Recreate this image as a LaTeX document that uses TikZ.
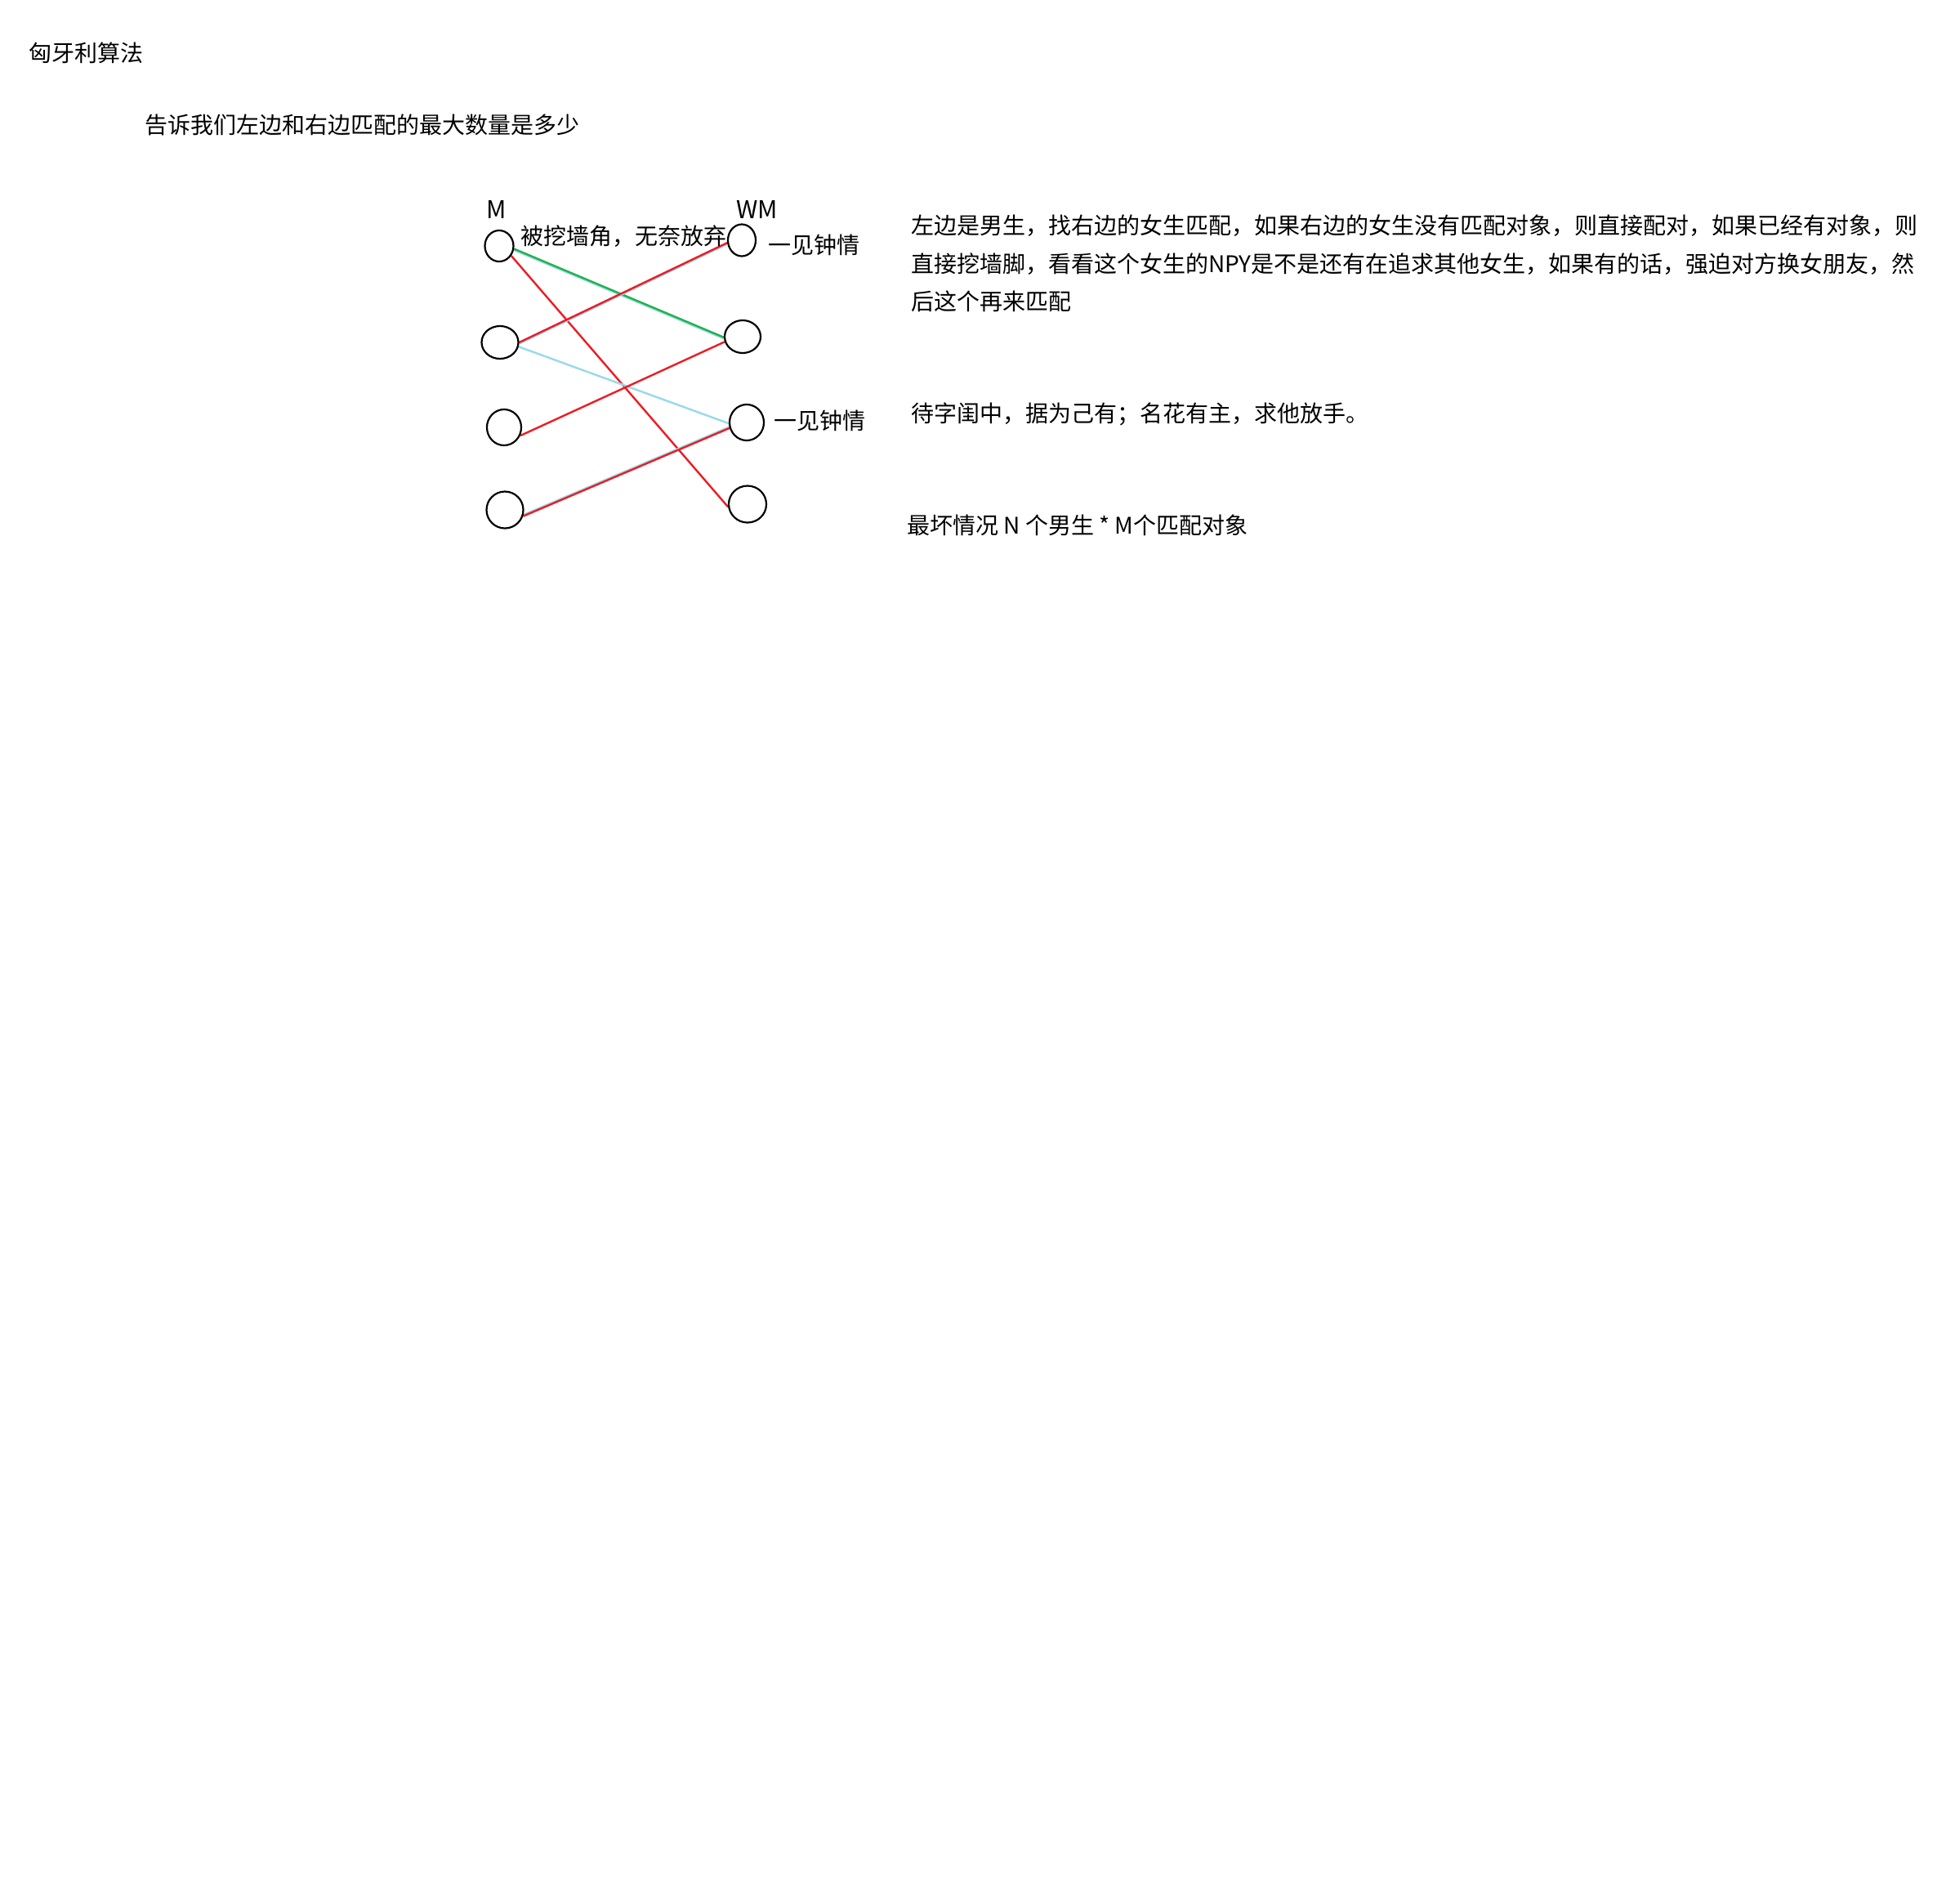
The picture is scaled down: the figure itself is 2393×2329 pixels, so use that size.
\documentclass[tikz,border=0pt]{standalone}
\usepackage{fontspec}
\setmainfont{Noto Sans CJK SC}
\usetikzlibrary{shapes.geometric,backgrounds}
\definecolor{pred}{HTML}{ED1C24}
\definecolor{pgreen}{HTML}{22B14C}
\definecolor{pblue}{HTML}{99D9EA}
\begin{document}
\begin{tikzpicture}[x=1pt,y=-1pt,
  txt/.style={anchor=base west, inner sep=0pt, font=\fontsize{28}{34}\selectfont},
  lat/.style={anchor=base west, inner sep=0pt, font=\fontsize{30}{36}\selectfont},
  vert/.style={ellipse, draw=black, line width=2.2pt, inner sep=0pt},
  link/.style={line width=2.4pt}]
\useasboundingbox (0,0) rectangle (2393,2329);
% vertices
\node[vert, minimum width=35pt, minimum height=38pt] (L1) at (611,301) {};
\node[vert, minimum width=45pt, minimum height=40pt] (L2) at (612,419) {};
\node[vert, minimum width=42pt, minimum height=44pt] (L3) at (617,523) {};
\node[vert, minimum width=45pt, minimum height=45pt] (L4) at (618,624) {};
\node[vert, minimum width=34pt, minimum height=39pt] (R1) at (908,294) {};
\node[vert, minimum width=44pt, minimum height=40pt] (R2) at (909,412) {};
\node[vert, minimum width=42pt, minimum height=44pt] (R3) at (914,517) {};
\node[vert, minimum width=46pt, minimum height=45pt] (R4) at (915,617) {};
% texts
\node[txt] (t1) at (35,75) {匈牙利算法};
\node[txt] (t2) at (177,163) {告诉我们左边和右边匹配的最大数量是多少};
\node[lat] (mlab) at (595,267) {M};
\node[lat] (wmlab) at (901,267) {WM};
\node[txt] (lab1) at (637,299) {被挖墙角，无奈放弃};
\node[txt] (lab2) at (940,310) {一见钟情};
\node[txt] (lab3) at (947,525) {一见钟情};
\node[txt] (p1) at (1115,286) {左边是男生，找右边的女生匹配，如果右边的女生没有匹配对象，则直接配对，如果已经有对象，则};
\node[txt] (p2) at (1115,333) {直接挖墙脚，看看这个女生的NPY是不是还有在追求其他女生，如果有的话，强迫对方换女朋友，然};
\node[txt] (p3) at (1115,379) {后这个再来匹配};
\node[txt] (p4) at (1115,516) {待字闺中，据为己有；名花有主，求他放手。};
\node[txt] (p5) at (1110,653) {最坏情况 N 个男生 * M个匹配对象};
% connectors
\begin{scope}[on background layer]
\fill[white] (0,0) rectangle (2393,2329);
\draw[link, pblue, transform canvas={yshift=-1.5pt}] (L1.-11) -- (R2.182);
\draw[link, pgreen] (L1.-11) -- (R2.182);
\draw[link, pred] (L1.-39) -- (R4.188);
\draw[link, pblue, transform canvas={yshift=-1.5pt}] (L2.0) -- (R1.190);
\draw[link, pred] (L2.0) -- (R1.190);
\draw[link, pblue] (L2.-13) -- (R3.183);
\draw[link, pred] (L3.-27) -- (R2.196);
\draw[link, pblue, transform canvas={yshift=1.5pt}] (L4.-19) -- (R3.198);
\draw[link, pred] (L4.-19) -- (R3.198);
\end{scope}
\end{tikzpicture}
\end{document}
